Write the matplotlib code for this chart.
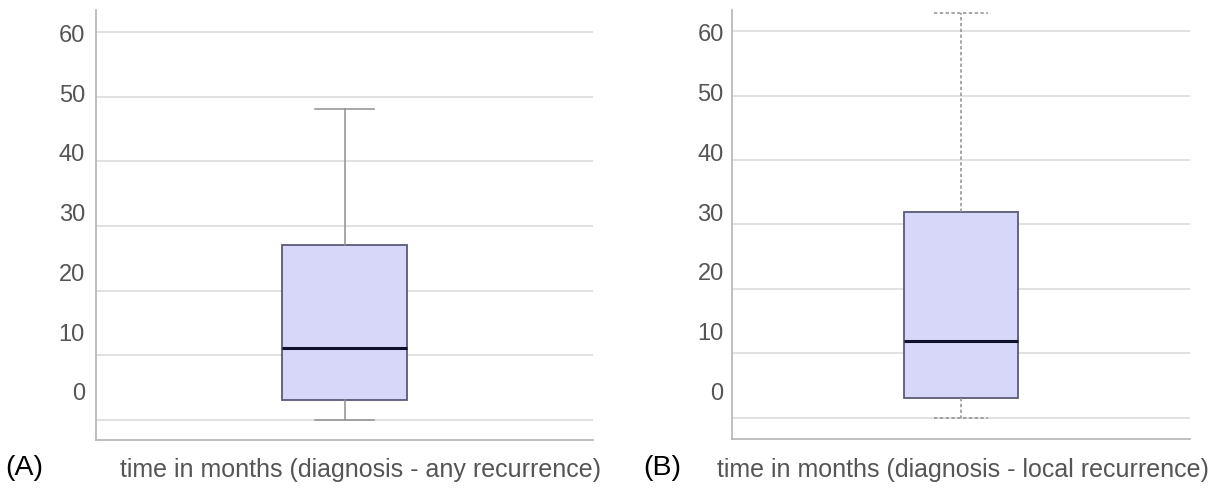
import matplotlib.pyplot as plt

plt.rcParams['font.family'] = ['Liberation Sans', 'DejaVu Sans']

# five-number summaries (months)
panels = ["(A)", "(B)"]
xlabels = ["time in months (diagnosis - any recurrence)",
           "time in months (diagnosis - local recurrence)"]
whis_lo = [0.0, 0.0]
q1 = [3.1, 3.1]
median = [11.1, 11.9]
q3 = [27.0, 31.9]
whis_hi = [48.1, 62.9]
yticks = [0, 10, 20, 30, 40, 50, 60]

# the printed tick labels are squeezed relative to the gridlines in the original
label_shift = [4.33, 4.03]
label_scale = [0.924, 0.930]

whisker_styles = ["-", (0, (2.2, 1.6))]
axes_rects = [
    [96 / 1225, 57 / 497, 497 / 1225, 430 / 497],
    [732 / 1225, 58 / 497, 458 / 1225, 429 / 497],
]
ylims = [(-3.1, 63.4), (-3.3, 63.3)]
label_pads = [8, 6]
xlabel_x = [361 / 1225, 963 / 1225]
panel_x = [5 / 1225, 643 / 1225]

fig = plt.figure(figsize=(12.25, 4.97), dpi=100)

for i in range(2):
    ax = fig.add_axes(axes_rects[i])
    stats = [dict(whislo=whis_lo[i], q1=q1[i], med=median[i], q3=q3[i],
                  whishi=whis_hi[i], fliers=[])]
    ax.bxp(stats, positions=[0], widths=0.5, patch_artist=True,
           boxprops=dict(facecolor="#d7d7fa", edgecolor="#5a5a78", linewidth=1.3),
           medianprops=dict(color="#10102a", linewidth=2.2),
           whiskerprops=dict(color="#8f8f8f", linewidth=1.1, linestyle=whisker_styles[i]),
           capprops=dict(color="#8f8f8f", linewidth=1.1, linestyle=whisker_styles[i]),
           capwidths=0.24, zorder=3)
    ax.set_xlim(-1, 1)
    ax.set_ylim(*ylims[i])
    ax.set_yticks(yticks)
    ax.yaxis.grid(True, color="#dcdcdc", linewidth=1.2)
    ax.set_axisbelow(True)
    ax.tick_params(axis="y", length=0, labelleft=False)
    ax.set_xticks([])
    for side in ["top", "right"]:
        ax.spines[side].set_visible(False)
    for side in ["left", "bottom"]:
        ax.spines[side].set_color("#b4b4b4")
        ax.spines[side].set_linewidth(1.2)

    a, b = label_shift[i], label_scale[i]
    sec = ax.secondary_yaxis("left", functions=(lambda d, a=a, b=b: (d - a) / b,
                                                lambda v, a=a, b=b: a + b * v))
    sec.set_yticks(yticks)
    sec.tick_params(length=0, pad=label_pads[i], labelsize=17, labelcolor="#555555")
    sec.spines["left"].set_visible(False)

    fig.text(xlabel_x[i], 0.054, xlabels[i], ha="center", va="center",
             fontsize=18, color="#555555")
    fig.text(panel_x[i], 0.058, panels[i], ha="left", va="center",
             fontsize=20.5, color="black")

fig.savefig("out.png", dpi=100)
